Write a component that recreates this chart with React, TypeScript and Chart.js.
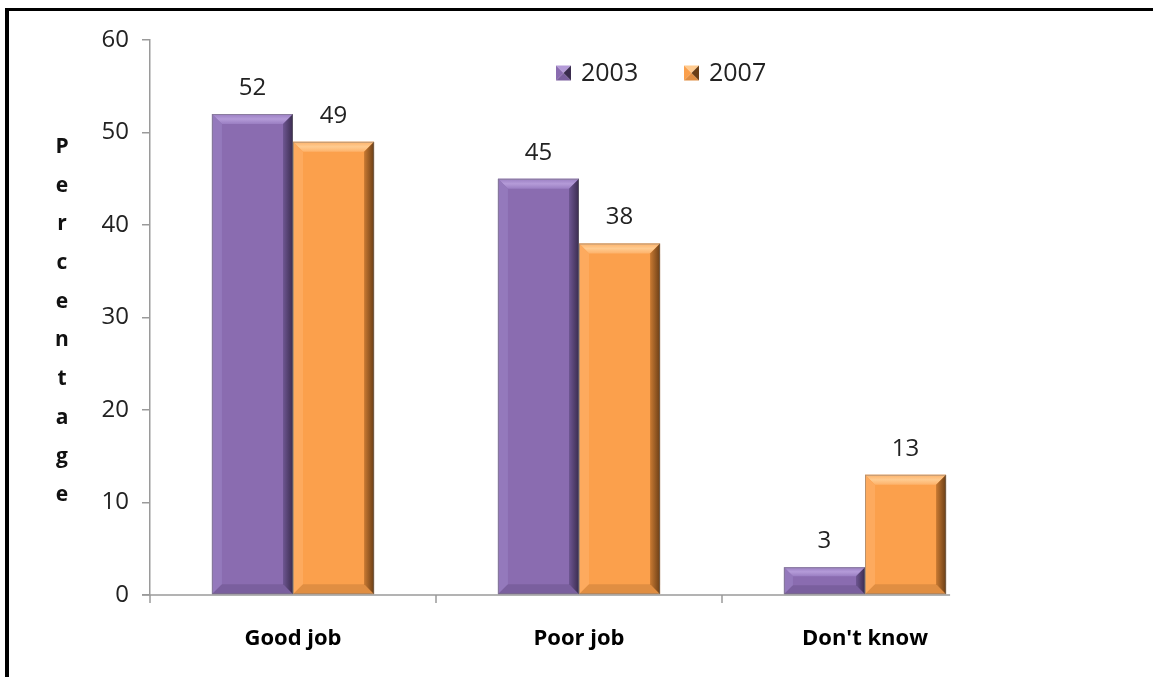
import React, { useEffect, useRef } from "react";
import { Chart, registerables } from "chart.js";

Chart.register(...registerables);

const categories = ["Good job", "Poor job", "Don't know"];
const series2003 = [52, 45, 3];
const series2007 = [49, 38, 13];
const seriesLabels = ["2003", "2007"];
const yTicks = [0, 10, 20, 30, 40, 50, 60];
const axisTitle = "Percentage";

const FONT = "'Open Sans', 'DejaVu Sans', sans-serif";
const PURPLE = "#8A6CB0";
const ORANGE = "#FBA04C";

const bevelColors: Record<string, { top: [string, string]; left: string; right: [string, string]; bottom: string }> = {
  [PURPLE]: { top: ["#B49BD8", "#9A7EC2"], left: "#9479BC", right: ["#6E5692", "#3A2C4E"], bottom: "#7A5F9E" },
  [ORANGE]: { top: ["#FFCB90", "#FDB26A"], left: "#FDAA5E", right: ["#C97A32", "#6A3E16"], bottom: "#E08E42" },
};

const framePlugin = {
  id: "frame",
  beforeDraw(chart: any) {
    const ctx = chart.ctx;
    ctx.save();
    ctx.fillStyle = "#fff";
    ctx.fillRect(0, 0, chart.width, chart.height);
    ctx.fillStyle = "#000";
    ctx.fillRect(5, 8, 4, chart.height - 8);
    ctx.fillRect(5, 8, chart.width - 5, 3);
    ctx.restore();
  },
};

const poly = (ctx: any, pts: number[][], fill: any) => {
  ctx.fillStyle = fill;
  ctx.beginPath();
  ctx.moveTo(pts[0][0], pts[0][1]);
  pts.slice(1).forEach((p) => ctx.lineTo(p[0], p[1]));
  ctx.closePath();
  ctx.fill();
};

const bevelPlugin = {
  id: "bevel",
  afterDatasetsDraw(chart: any) {
    const ctx = chart.ctx;
    chart.data.datasets.forEach((ds: any, di: number) => {
      const meta = chart.getDatasetMeta(di);
      const cols = bevelColors[ds.backgroundColor];
      meta.data.forEach((bar: any, i: number) => {
        const x0 = bar.x - bar.width / 2;
        const x1 = bar.x + bar.width / 2;
        const y0 = bar.y;
        const y1 = bar.base;
        const h = y1 - y0;
        const b = Math.min(10, h / 3);
        ctx.save();
        const gt = ctx.createLinearGradient(0, y0, 0, y0 + b);
        gt.addColorStop(0, cols.top[1]);
        gt.addColorStop(0.5, cols.top[0]);
        gt.addColorStop(1, cols.top[1]);
        poly(ctx, [[x0, y0], [x1, y0], [x1 - b, y0 + b], [x0 + b, y0 + b]], gt);
        poly(ctx, [[x0, y0], [x0 + b, y0 + b], [x0 + b, y1 - b], [x0, y1]], cols.left);
        poly(ctx, [[x0, y1], [x0 + b, y1 - b], [x1 - b, y1 - b], [x1, y1]], cols.bottom);
        const g = ctx.createLinearGradient(x1 - b, 0, x1, 0);
        g.addColorStop(0, cols.right[0]);
        g.addColorStop(1, cols.right[1]);
        poly(ctx, [[x1, y0], [x1, y1], [x1 - b, y1 - b], [x1 - b, y0 + b]], g);
        ctx.strokeStyle = "rgba(120,120,120,0.5)";
        ctx.lineWidth = 1;
        ctx.strokeRect(x0 + 0.5, y0 + 0.5, x1 - x0 - 1, y1 - y0 - 1);
        ctx.fillStyle = "#222";
        ctx.font = `24px ${FONT}`;
        ctx.textAlign = "center";
        ctx.textBaseline = "middle";
        ctx.fillText(String(ds.data[i]), bar.x, y0 - 26);
        ctx.restore();
      });
    });
  },
};

const axisPlugin = {
  id: "axisLine",
  afterDraw(chart: any) {
    const ctx = chart.ctx;
    const area = chart.chartArea;
    const xs = chart.scales.x;
    const lastMeta = chart.getDatasetMeta(chart.data.datasets.length - 1);
    const lastBar = lastMeta.data[lastMeta.data.length - 1];
    const right = lastBar.x + lastBar.width / 2 + 4;
    ctx.save();
    ctx.strokeStyle = "#9a9a9a";
    ctx.lineWidth = 1.5;
    ctx.beginPath();
    ctx.moveTo(area.left - 8, area.bottom);
    ctx.lineTo(right, area.bottom);
    const half = (xs.getPixelForValue(1) - xs.getPixelForValue(0)) / 2;
    for (let i = 0; i < categories.length; i++) {
      const bx = xs.getPixelForValue(i) - half;
      ctx.moveTo(bx, area.bottom);
      ctx.lineTo(bx, area.bottom + 8);
    }
    ctx.stroke();

    ctx.fillStyle = "#111";
    ctx.font = `bold 21px ${FONT}`;
    ctx.textAlign = "center";
    ctx.textBaseline = "middle";
    const letters = axisTitle.split("");
    const step = 38.7;
    const startY = 147;
    letters.forEach((ch, k) => ctx.fillText(ch, 62, startY + k * step));

    ctx.font = `25px ${FONT}`;
    ctx.textAlign = "left";
    let lx = 556;
    const ly = 73;
    chart.data.datasets.forEach((ds: any) => {
      const cols = bevelColors[ds.backgroundColor];
      const s = 15;
      const x0 = lx, y0 = ly - s / 2, x1 = lx + s, y1 = ly + s / 2;
      const cx = (x0 + x1) / 2, cy = (y0 + y1) / 2;
      poly(ctx, [[x0, y0], [x1, y0], [cx, cy]], cols.top[0]);
      poly(ctx, [[x0, y0], [x0, y1], [cx, cy]], ds.backgroundColor);
      poly(ctx, [[x0, y1], [x1, y1], [cx, cy]], cols.bottom);
      poly(ctx, [[x1, y0], [x1, y1], [cx, cy]], cols.right[1]);
      ctx.fillStyle = "#222";
      ctx.fillText(ds.label, lx + 25, ly + 1);
      lx += 128;
    });
    ctx.restore();
  },
};

export default function App() {
  const ref = useRef<HTMLCanvasElement>(null);
  useEffect(() => {
    if (!ref.current) return;
    const chart = new Chart(ref.current, {
      type: "bar",
      data: {
        labels: categories,
        datasets: [
          { label: seriesLabels[0], data: series2003, backgroundColor: PURPLE, borderWidth: 0 },
          { label: seriesLabels[1], data: series2007, backgroundColor: ORANGE, borderWidth: 0 },
        ],
      },
      options: {
        animation: false,
        responsive: false,
        devicePixelRatio: 1,
        layout: { padding: { top: 40, right: 145, left: 0, bottom: 0 } },
        datasets: { bar: { categoryPercentage: 0.567, barPercentage: 1.0 } },
        plugins: { legend: { display: false }, tooltip: { enabled: false } },
        scales: {
          x: {
            grid: { display: false },
            border: { display: false },
            ticks: { color: "#000", font: { family: FONT, size: 22, weight: "bold" }, padding: 23 },
            afterFit: (s: any) => { s.height = 82; },
          },
          y: {
            min: yTicks[0],
            max: yTicks[yTicks.length - 1],
            afterBuildTicks: (s: any) => { s.ticks = yTicks.map((v) => ({ value: v })); },
            grid: { display: true, drawOnChartArea: false, tickLength: 8, lineWidth: 1.5, color: "#9a9a9a" },
            border: { display: true, color: "#9a9a9a", width: 1.5 },
            ticks: { color: "#222", font: { family: FONT, size: 24 }, padding: 13 },
            afterFit: (s: any) => { s.width = 150; },
          },
        },
      },
      plugins: [framePlugin, bevelPlugin, axisPlugin],
    } as any);
    return () => chart.destroy();
  }, []);
  return (
    <canvas
      ref={ref}
      width={1153}
      height={677}
      style={{ position: "absolute", left: 0, top: 0, width: 1153, height: 677 }}
    />
  );
}
